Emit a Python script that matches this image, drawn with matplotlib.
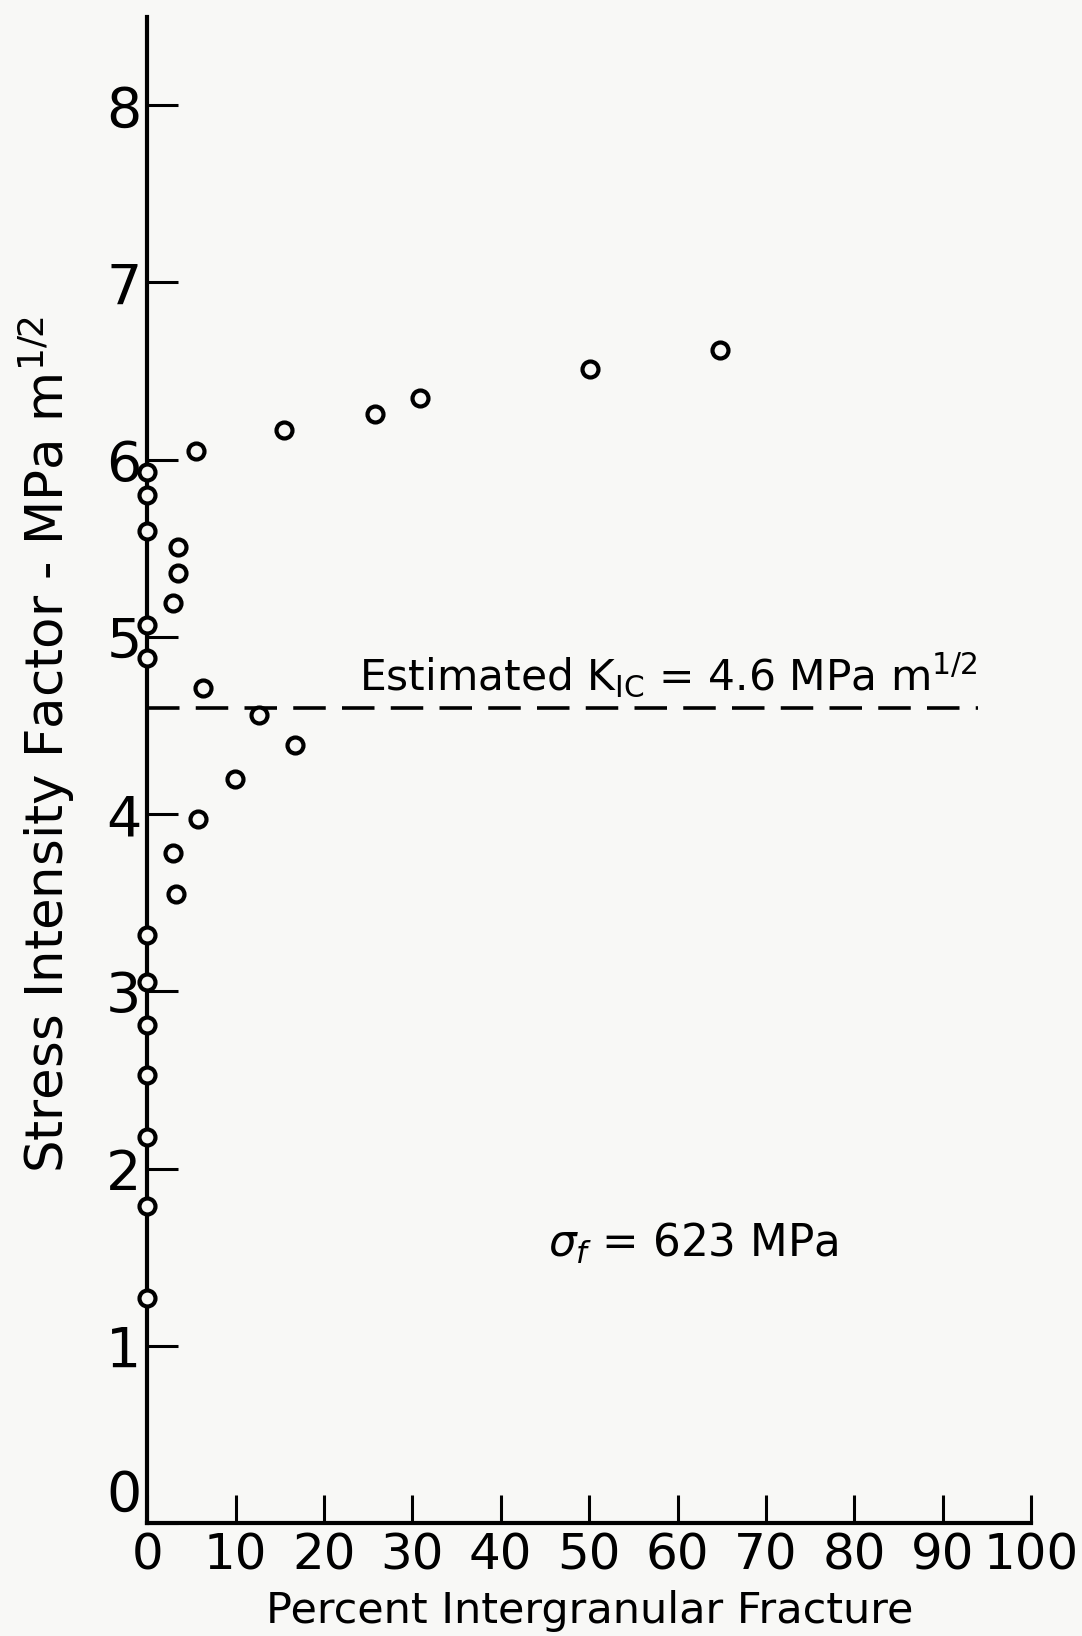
import numpy as np
import matplotlib
matplotlib.use("Agg")
import matplotlib.pyplot as plt

# data
# points sitting on the axis (0 % intergranular fracture)
x_zero = [0, 0, 0, 0, 0, 0, 0, 0, 0, 0, 0, 0]
k_zero = [5.93, 5.80, 5.60, 5.07, 4.88, 3.32, 3.05, 2.81, 2.53, 2.18, 1.79, 1.27]

# points with some intergranular fracture
x_ig = [3.5, 3.5, 2.9, 5.5, 6.3, 12.7, 16.7, 9.9, 5.7, 2.9, 3.3,
        15.5, 25.8, 30.9, 50.1, 64.8]
k_ig = [5.51, 5.36, 5.19, 6.05, 4.71, 4.56, 4.39, 4.20, 3.97, 3.78, 3.55,
        6.17, 6.26, 6.35, 6.51, 6.62]

kic_est = 4.6
kic_line_end = 94

x_ticks = list(range(0, 101, 10))
y_ticks = list(range(0, 9))

plt.rcParams['font.family'] = ['DejaVu Sans']
plt.rcParams['mathtext.fontset'] = 'dejavusans'

bg = '#f8f8f6'
fig = plt.figure(figsize=(10.82, 16.36), dpi=100, facecolor=bg)
ax = fig.add_axes([0.136, 0.0691, 0.817, 0.9207])
ax.set_facecolor(bg)

ax.set_xlim(0, 100)
ax.set_ylim(0, 8.5)

for s in ['top', 'right']:
    ax.spines[s].set_visible(False)
for s in ['left', 'bottom']:
    ax.spines[s].set_linewidth(3)
    ax.spines[s].set_color('black')

# estimated K_IC dashed line
ax.plot([0, kic_line_end], [kic_est, kic_est], color='black', lw=2.6,
        dashes=(9, 4.5), zorder=2)

ax.plot(x_zero, k_zero, 'o', mfc=bg, mec='black', ms=11.5, mew=3,
        clip_on=False, zorder=3)
ax.plot(x_ig, k_ig, 'o', mfc=bg, mec='black', ms=11.5, mew=3,
        clip_on=False, zorder=3)

ax.set_xticks(x_ticks)
ax.set_yticks(y_ticks)
ax.tick_params(axis='x', direction='in', length=20, width=2.2,
               labelsize=36, pad=6)
ax.tick_params(axis='y', direction='in', length=22, width=2.2,
               labelsize=40, pad=4)
# the y "0" sits a little above the corner, clear of the x "0"
ax.yaxis.get_major_ticks()[0].label1.set_va('bottom')

ax.text(24, 4.7, r'Estimated K$_{\rm IC}$ = 4.6 MPa m$^{1/2}$',
        fontsize=30.5, ha='left', va='baseline')
ax.text(45.3, 1.5, r'$\sigma_f$ = 623 MPa', fontsize=31.5,
        ha='left', va='baseline')

fig.text(0.043, 0.545, r'Stress Intensity Factor - MPa m$^{1/2}$',
         rotation=90, fontsize=37, ha='center', va='center')
fig.text(0.545, 0.015, 'Percent Intergranular Fracture',
         fontsize=31, ha='center', va='center')

plt.savefig('out.png', dpi=100, facecolor=bg)
plt.close()
